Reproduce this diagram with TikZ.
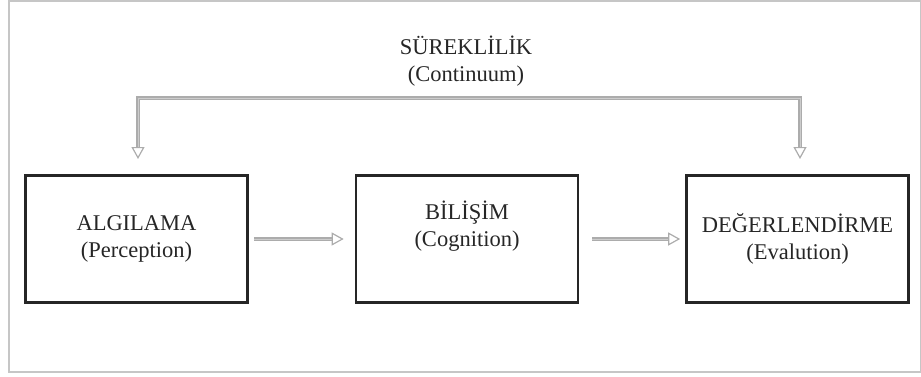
\documentclass[tikz,border=0pt]{standalone}
\usepackage{fontspec}
\setmainfont{Liberation Serif}
\usetikzlibrary{arrows.meta}

\begin{document}
\begin{tikzpicture}[x=1pt, y=-1pt,
    main/.style = {draw=black!85, line width=2.6pt, minimum width=222pt, minimum height=127pt, align=center, font=\fontsize{22.5}{27}\selectfont, text=black!85},
    flow/.style = {draw=gray!65, double=gray!40, double distance=0.9pt, line width=1.1pt, -{Triangle[open, length=12pt, width=13pt, line width=1.2pt]}}]
    \useasboundingbox (0,0) rectangle (921,376);
    \draw[gray!45, line width=2.6pt] (9,1) rectangle (921,372);

    \node[align=center, font=\fontsize{22.5}{27}\selectfont, text=black!85] (0) at (466,61) {SÜREKLİLİK\\(Continuum)};
    \node[main] (1) at (136.5,239) {ALGILAMA\\(Perception)};
    \node[main] (2) at (467,239) {BİLİŞİM\\(Cognition)\\[4pt]};
    \node[main] (3) at (797.5,239) {DEĞERLENDİRME\\(Evalution)};

    \coordinate (top) at (466,98);
    \coordinate (in1) at (138,159);
    \coordinate (in3) at (800,159);

    \draw[flow] (top) -| (in1);
    \draw[flow] (top) -| (in3);
    \draw[flow] ([xshift=5pt]1.east) -- ([xshift=-11pt]2.west);
    \draw[flow] ([xshift=13pt]2.east) -- ([xshift=-5pt]3.west);

  \end{tikzpicture}
\end{document}
